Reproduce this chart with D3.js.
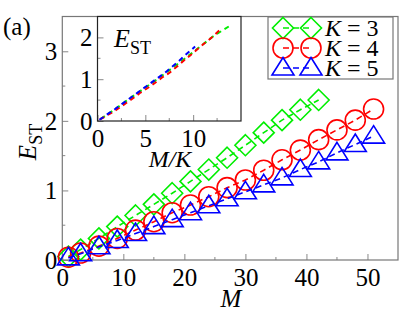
<!DOCTYPE html>
<html>
<head>
<meta charset="utf-8">
<script src="https://cdn.jsdelivr.net/npm/d3@7"></script>
<style>
  body { margin: 0; background: #fff; }
  text { font-family: "Liberation Serif", "Times New Roman", serif; }
</style>
</head>
<body>
<div id="chart"></div>
<script>
// K values for the three series
const kValues = [3, 4, 5];

// M values
const mK3 = [1, 3, 6, 9, 12, 15, 18, 21, 24, 27, 30, 33, 36, 39, 42];
const mK4 = [1, 3, 6, 9, 12, 15, 18, 21, 24, 27, 30, 33, 36, 39, 42, 45, 48, 51];
const mK5 = [1, 3, 6, 9, 12, 15, 18, 21, 24, 27, 30, 33, 36, 39, 42, 45, 48, 51];

// E_ST values
const eK3 = [0.05, 0.15, 0.31, 0.48, 0.64, 0.80, 0.96, 1.13, 1.30, 1.47, 1.65, 1.83, 2.01, 2.16, 2.30];
const eK4 = [0.04, 0.10, 0.20, 0.31, 0.43, 0.55, 0.68, 0.79, 0.91, 1.04, 1.15, 1.29, 1.44, 1.58, 1.73, 1.87, 2.01, 2.17];
const eK5 = [0.03, 0.09, 0.19, 0.28, 0.38, 0.48, 0.58, 0.68, 0.78, 0.88, 0.98, 1.08, 1.18, 1.30, 1.41, 1.54, 1.66, 1.78];

// tick labels
const mainXTicks = [0, 10, 20, 30, 40, 50];
const mainYTicks = [0, 1, 2, 3];
const insetXTicks = [0, 5, 10];
const insetYTicks = [0, 1, 2];

const colors = ['#00ee00', '#ff0000', '#0000ff'];
const shapes = ['diamond', 'circle', 'triangle'];

const series = kValues.map((k, i) => {
  const ms = [mK3, mK4, mK5][i];
  const es = [eK3, eK4, eK5][i];
  return { k, color: colors[i], shape: shapes[i], points: ms.map((m, j) => ({ m, e: es[j] })) };
});

const width = 415, height = 313;
const svg = d3.select('#chart').append('svg')
  .attr('width', width).attr('height', height);

// main scales
const x = d3.scaleLinear().domain([0, 55]).range([62.3, 398]);
const y = d3.scaleLinear().domain([0, 3.5]).range([260, 16.5]);

function markerPath(shape) {
  if (shape === 'diamond') return 'M0,-10.5L10.5,0L0,10.5L-10.5,0Z';
  if (shape === 'triangle') return 'M0,-10.5L11,7L-11,7Z';
  return d3.arc()({ innerRadius: 0, outerRadius: 10, startAngle: 0, endAngle: 2 * Math.PI });
}

function drawAxes(g, xs, ys, xTicks, yTicks, xMinor, yMinor, frameColor) {
  const [x0, x1] = xs.range();
  const [y0, y1] = ys.range();
  // major ticks, pointing inward
  const xAxis = g.append('g').attr('transform', `translate(0,${y0})`)
    .call(d3.axisBottom(xs).tickValues(xTicks).tickFormat(d3.format('d'))
      .tickSizeInner(-6).tickSizeOuter(0).tickPadding(8));
  xAxis.attr('font-family', null);
  xAxis.select('.domain').remove();
  xAxis.selectAll('.tick line').attr('stroke', '#888').attr('stroke-width', 1);
  xAxis.selectAll('.tick text').attr('font-size', 25).attr('fill', '#000').attr('dy', '0.71em');

  const yAxis = g.append('g').attr('transform', `translate(${x0},0)`)
    .call(d3.axisLeft(ys).tickValues(yTicks).tickFormat(d3.format('d'))
      .tickSizeInner(-6).tickSizeOuter(0).tickPadding(5));
  yAxis.attr('font-family', null);
  yAxis.select('.domain').remove();
  yAxis.selectAll('.tick line').attr('stroke', '#888').attr('stroke-width', 1);
  yAxis.selectAll('.tick text').attr('font-size', 25).attr('fill', '#000').attr('dy', '0.34em');

  // minor ticks
  g.append('g').selectAll('line').data(xMinor).join('line')
    .attr('x1', d => xs(d)).attr('x2', d => xs(d))
    .attr('y1', y0).attr('y2', y0 - 3)
    .attr('stroke', '#888');
  g.append('g').selectAll('line').data(yMinor).join('line')
    .attr('x1', x0).attr('x2', x0 + 3)
    .attr('y1', d => ys(d)).attr('y2', d => ys(d))
    .attr('stroke', '#888');

  g.append('rect')
    .attr('x', x0).attr('y', y1)
    .attr('width', x1 - x0).attr('height', y0 - y1)
    .attr('fill', 'none').attr('stroke', frameColor).attr('stroke-width', 1.2);
}

// main plot
const main = svg.append('g');
drawAxes(main, x, y, mainXTicks, mainYTicks,
  [5, 15, 25, 35, 45], [0.5, 1.5, 2.5], '#777');

const line = d3.line().x(d => x(d.m)).y(d => y(d.e));

series.forEach(s => {
  const g = main.append('g');
  g.append('path')
    .attr('d', line(s.points))
    .attr('fill', 'none')
    .attr('stroke', s.color)
    .attr('stroke-width', 1.6)
    .attr('stroke-dasharray', '6,4');
  g.selectAll('path.marker').data(s.points).join('path')
    .attr('class', 'marker')
    .attr('d', markerPath(s.shape))
    .attr('transform', d => `translate(${x(d.m)},${y(d.e)})`)
    .attr('fill', 'none')
    .attr('stroke', s.color)
    .attr('stroke-width', 1.6);
});

// axis titles
svg.append('text')
  .attr('x', 231).attr('y', 307)
  .attr('text-anchor', 'middle')
  .attr('font-size', 25).attr('font-style', 'italic')
  .text('M');

const yTitle = svg.append('text')
  .attr('transform', 'translate(36,142) rotate(-90)')
  .attr('text-anchor', 'middle')
  .attr('font-size', 25);
yTitle.append('tspan').attr('font-style', 'italic').text('E');
yTitle.append('tspan').attr('font-size', 18).attr('dy', 6).text('ST');

svg.append('text')
  .attr('x', 3).attr('y', 35)
  .attr('font-size', 25)
  .text('(a)');

// legend
const legend = svg.append('g');
legend.append('rect')
  .attr('x', 268).attr('y', 17)
  .attr('width', 125).attr('height', 62)
  .attr('fill', '#fff').attr('stroke', '#777').attr('stroke-width', 1.2);

series.forEach((s, i) => {
  const ly = 28 + i * 20;
  const row = legend.append('g');
  row.append('line')
    .attr('x1', 283).attr('x2', 311)
    .attr('y1', ly).attr('y2', ly)
    .attr('stroke', s.color).attr('stroke-width', 1.6)
    .attr('stroke-dasharray', '6,4');
  row.selectAll('path').data([283, 311]).join('path')
    .attr('d', markerPath(s.shape))
    .attr('transform', d => `translate(${d},${ly})`)
    .attr('fill', 'none')
    .attr('stroke', s.color).attr('stroke-width', 1.6);
  const t = row.append('text')
    .attr('x', 325).attr('y', ly + 8)
    .attr('font-size', 24);
  t.append('tspan').attr('font-style', 'italic').text('K');
  t.append('tspan').text(` = ${s.k}`);
});

// inset: E_ST versus M/K
const ix = d3.scaleLinear().domain([0, 15]).range([97.5, 241]);
const iy = d3.scaleLinear().domain([0, 2.5]).range([121, 16.5]);

const inset = svg.append('g');
inset.append('rect')
  .attr('x', 97.5).attr('y', 16.5)
  .attr('width', 241 - 97.5).attr('height', 121 - 16.5)
  .attr('fill', '#fff');
drawAxes(inset, ix, iy, insetXTicks, insetYTicks,
  [2.5, 7.5, 12.5], [0.5, 1.5], '#222');

const insetLine = d3.line().x(d => ix(d.m / d.k)).y(d => iy(d.e));
series.forEach(s => {
  inset.append('path')
    .attr('d', insetLine(s.points.map(p => ({ m: p.m, k: s.k, e: p.e }))))
    .attr('fill', 'none')
    .attr('stroke', s.color)
    .attr('stroke-width', 2)
    .attr('stroke-dasharray', '5,4');
});

const iTitle = inset.append('text')
  .attr('x', 114).attr('y', 47)
  .attr('font-size', 26);
iTitle.append('tspan').attr('font-style', 'italic').text('E');
iTitle.append('tspan').attr('font-size', 18).attr('dy', 7).text('ST');

inset.append('text')
  .attr('x', 170).attr('y', 167)
  .attr('text-anchor', 'middle')
  .attr('font-size', 24).attr('font-style', 'italic')
  .text('M/K');
</script>
</body>
</html>
